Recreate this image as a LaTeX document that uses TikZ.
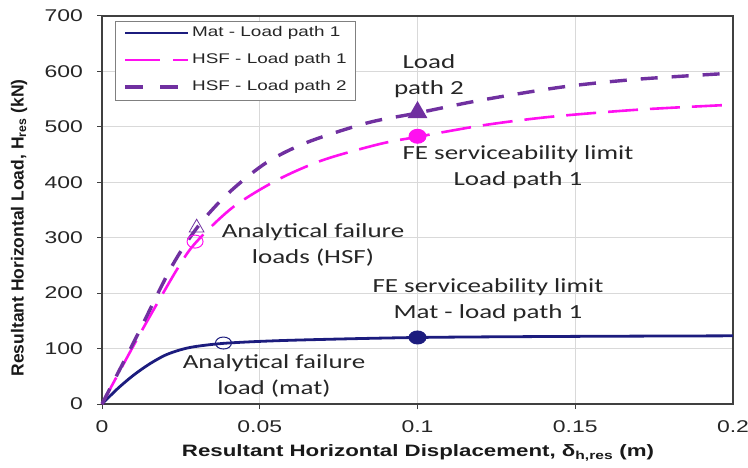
\documentclass[tikz,border=0pt]{standalone}
\usepackage{fontspec}
\setmainfont[FakeStretch=1.35]{Carlito}
\newfontfamily\arialfont[FakeStretch=1.35]{Liberation Sans}
\newfontfamily\arialup{Liberation Sans}
\usepackage{tikz}
\usetikzlibrary{shapes.geometric}

\definecolor{MatNavy}{HTML}{1C1C7E}
\definecolor{HsfMagenta}{HTML}{FF10F0}
\definecolor{HsfPurple}{HTML}{7030A0}
\definecolor{GridGrey}{HTML}{D9D9D9}
\definecolor{FrameGrey}{HTML}{404040}

\tikzset{
  tick label/.style={font=\arialfont\fontsize{17}{17}\selectfont, text=black!85, inner sep=0pt},
  axis title/.style={font=\bfseries\fontsize{16.5}{17}\selectfont, text=black!90, inner sep=0pt},
  legend text/.style={font=\arialfont\fontsize{14}{14}\selectfont, text=black!85, inner sep=0pt, anchor=west},
  note/.style={font=\fontsize{20}{26}\selectfont, align=center, inner sep=0pt, text=black!85},
  mat line/.style={MatNavy, line width=2.8pt},
  hsf one/.style={HsfMagenta, line width=2.6pt, dash pattern=on 30pt off 12pt},
  hsf two/.style={HsfPurple, line width=3.4pt, dash pattern=on 17pt off 14pt},
  open dot/.style={ellipse, draw, line width=1pt, minimum width=16pt, minimum height=13pt, inner sep=0pt},
  full dot/.style={ellipse, minimum width=18pt, minimum height=14pt, inner sep=0pt},
  tri/.style={regular polygon, regular polygon sides=3, inner sep=0pt}
}

\begin{document}
\begin{tikzpicture}[x=1pt, y=-1pt]
  \useasboundingbox (0,0) rectangle (748,468);

  % --- axes in data units: 0.2 m wide, 700 kN high ---
  \begin{scope}[shift={(102,404)}, x=3155pt, y=0.5543pt]
    % grid
    \foreach \gx in {0.05,0.1,0.15}
      \draw[GridGrey, line width=1pt] (\gx,0) -- (\gx,700);
    \foreach \gy in {100,200,...,600}
      \draw[GridGrey, line width=1pt] (0,\gy) -- (0.2,\gy);
    % small ticks outside the frame
    \foreach \gy in {0,100,...,700}
      \draw[FrameGrey, line width=1pt] ([xshift=-5pt]0,\gy) -- (0,\gy);
    \foreach \gx in {0,0.05,...,0.2}
      \draw[FrameGrey, line width=1pt] ([yshift=-5pt]\gx,0) -- (\gx,0);
    \draw[FrameGrey, line width=1.6pt] (0,0) rectangle (0.2,700);

    % tick labels
    \foreach \gy in {0,100,...,700}
      \node[tick label, anchor=east] (ytick\gy) at ([xshift=-19pt]0,\gy) {\gy};
    \foreach \gx/\lab [count=\i] in {0/0,0.05/0.05,0.1/0.1,0.15/0.15,0.2/0.2}
      \node[tick label] (xtick\i) at ([yshift=-23pt]\gx,0) {\lab};

    % --- load-displacement curves ---
    \draw[mat line] plot[smooth] coordinates {(0,0) (0.005,28) (0.01,52) (0.015,72)
      (0.02,88) (0.025,98) (0.03,104) (0.04,110) (0.06,115) (0.1,120) (0.15,122) (0.2,123)};
    \draw[hsf one] plot[smooth] coordinates {(0,0) (0.012,126) (0.024,245) (0.03,293)
      (0.0415,355) (0.0555,404) (0.07,440) (0.088,469) (0.1,482) (0.121,503)
      (0.142,518) (0.17,531) (0.2,540)};
    \draw[hsf two] plot[smooth] coordinates {(0,0) (0.011,122) (0.022,247) (0.0304,320)
      (0.04,380) (0.052,435) (0.065,472) (0.084,507) (0.1,525) (0.12,548)
      (0.146,572) (0.17,586) (0.2,597)};

    % --- failure and serviceability points ---
    \node[tri, draw=HsfPurple, line width=0.8pt, minimum size=17pt] (failtwo) at (0.030,318) {};
    \node[open dot, draw=HsfMagenta] (failone) at (0.0295,293) {};
    \node[open dot, draw=MatNavy, minimum height=12pt] (failmat) at (0.0385,110) {};
    \node[full dot, fill=MatNavy] (fesmat) at (0.1,120) {};
    \node[full dot, fill=HsfMagenta, minimum height=15pt] (fesone) at (0.1,483) {};
    \node[tri, fill=HsfPurple, minimum size=23pt] (festwo) at (0.1,526) {};
  \end{scope}

  % --- legend ---
  \draw[gray, fill=white, line width=0.8pt] (115,21) rectangle (355,100);
  \draw[mat line] (125,33) -- (188,33);
  \node[legend text] (legmat) at (192,33) {Mat - Load path 1};
  \draw[HsfMagenta, line width=2.8pt, dash pattern=on 35pt off 13pt] (125,60) -- (188,60);
  \node[legend text] (leghsfone) at (192,60) {HSF - Load path 1};
  \draw[HsfPurple, line width=3.6pt, dash pattern=on 18pt off 17pt] (125,87) -- (188,87);
  \node[legend text] (leghsftwo) at (192,87) {HSF - Load path 2};

  % --- annotations ---
  \node[note] (notetwo) at (429,76) {Load\\path 2};
  \node[note] (notefeone) at (518,167) {FE serviceability limit\\Load path 1};
  \node[note] (notehsf) at (313,245) {Analytical failure\\loads (HSF)};
  \node[note] (notefemat) at (488,300) {FE serviceability limit\\Mat - load path 1};
  \node[note] (notemat) at (274,376) {Analytical failure\\load (mat)};

  % --- axis titles ---
  \node[axis title, font=\arialup\bfseries\fontsize{17.5}{17}\selectfont, rotate=90] (ytitle) at (19,228)
    {Resultant Horizontal Load, H\textsubscript{res} (kN)};
  \node[axis title, font=\arialfont\bfseries\fontsize{16.5}{17}\selectfont] (xtitle) at (418,453)
    {Resultant Horizontal Displacement, δ\textsubscript{h,res} (m)};
\end{tikzpicture}
\end{document}
